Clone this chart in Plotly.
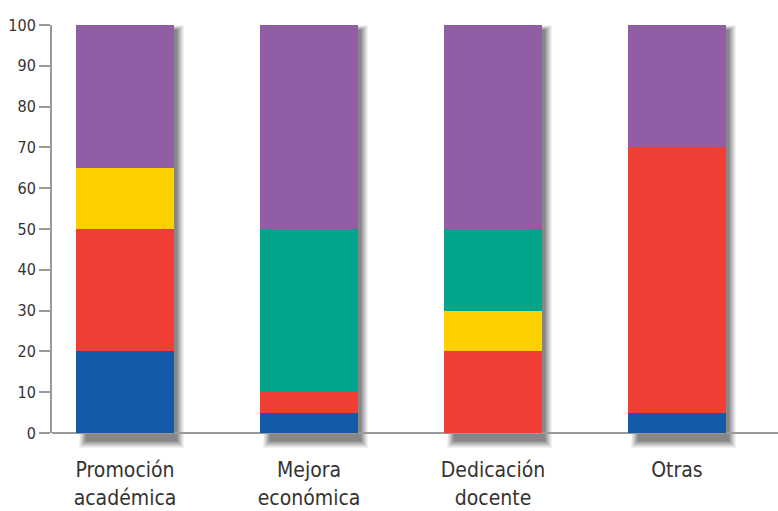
import plotly.graph_objects as go

categories = ["Promoción<br>académica", "Mejora<br>económica", "Dedicación<br>docente", "Otras"]
series_names = ["Azul", "Rojo", "Amarillo", "Verde", "Morado"]
blue = [20, 5, 0, 5]
red = [30, 5, 20, 65]
yellow = [15, 0, 10, 0]
teal = [0, 40, 20, 0]
purple = [35, 50, 50, 30]
y_ticks = [0, 10, 20, 30, 40, 50, 60, 70, 80, 90, 100]

colors = ["#135BA8", "#EF3E33", "#FFD000", "#00A58C", "#915EA6"]
values = [blue, red, yellow, teal, purple]
bar_width = 0.533
y_max = 100
font_family = "DejaVu Sans Condensed, Liberation Sans Narrow, Roboto, sans-serif"

x_idx = list(range(len(categories)))
fig = go.Figure()
for name, col, vals in zip(series_names, colors, values):
    fig.add_trace(go.Bar(
        x=x_idx, y=vals, name=name, width=bar_width,
        marker=dict(color=col, line=dict(width=0)),
        hoverinfo="y",
    ))

# soft drop shadow behind each stacked column (paper y so it can spill below the axis)
shapes = []
half_px = 49
layers = [(6, 0.06), (5, 0.07), (4, 0.08), (3, 0.09), (2, 0.10), (1, 0.11), (0, 0.12), (-1, 0.12)]
for i in x_idx:
    total = sum(v[i] for v in values)
    for spread, op in layers:
        shapes.append(dict(
            type="rect", layer="below",
            xref="x", yref="paper", xsizemode="pixel", xanchor=i,
            x0=-half_px + 9 - spread, x1=half_px + 4 + spread,
            y0=(-2.2 - spread * 0.25) / y_max, y1=(total - 1.0 + spread * 0.15) / y_max,
            line=dict(width=0), fillcolor=f"rgba(40,40,45,{op})",
        ))

fig.update_layout(
    barmode="stack",
    width=778, height=511,
    margin=dict(l=52, r=0, t=25, b=78),
    paper_bgcolor="white", plot_bgcolor="white",
    showlegend=False,
    shapes=shapes,
    font=dict(family=font_family, color="#333333"),
    xaxis=dict(
        range=[-0.397, 3.549],
        tickmode="array", tickvals=x_idx, ticktext=categories,
        tickfont=dict(size=21, color="#333333"),
        showgrid=False, zeroline=False,
        showline=False, ticks="outside", ticklen=18, tickcolor="rgba(0,0,0,0)",
    ),
    yaxis=dict(
        range=[0, y_max],
        tickmode="array", tickvals=y_ticks,
        tickfont=dict(size=16, color="#333333"),
        showgrid=False, zeroline=True, zerolinecolor="#9a9a9a", zerolinewidth=2,
        showline=True, linecolor="#9a9a9a", linewidth=2,
        ticks="outside", ticklen=11, tickcolor="#9a9a9a", tickwidth=1.5,
    ),
)

fig.write_html("out.html")
